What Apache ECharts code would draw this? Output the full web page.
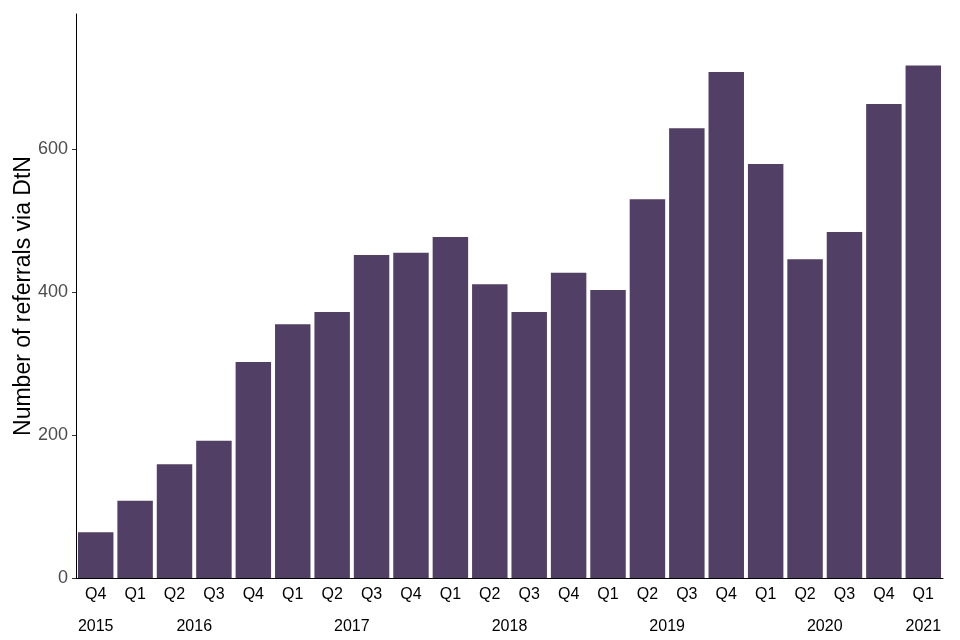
<!DOCTYPE html>
<html>
<head>
<meta charset="utf-8">
<script src="https://cdn.jsdelivr.net/npm/echarts@6/dist/echarts.min.js"></script>
<style>html,body{margin:0;padding:0;background:#fff}#c{width:960px;height:640px}</style>
</head>
<body>
<div id="c"></div>
<script>
var quarters = ['Q4','Q1','Q2','Q3','Q4','Q1','Q2','Q3','Q4','Q1','Q2','Q3','Q4','Q1','Q2','Q3','Q4','Q1','Q2','Q3','Q4','Q1'];
var yearOf = ['2015','2016','2016','2016','2016','2017','2017','2017','2017','2018','2018','2018','2018','2019','2019','2019','2019','2020','2020','2020','2020','2021'];
var referrals = [64,108,159,192,302,355,372,452,455,477,411,372,427,403,530,629,708,579,446,484,663,717];
var yTicks = [0,200,400,600];

// year label centres derived from the category data
var years = [];
var yearCentre = {};
yearOf.forEach(function(y,i){
  if(!(y in yearCentre)){ years.push(y); yearCentre[y] = []; }
  yearCentre[y].push(i);
});
var yearPos = years.map(function(y){
  var a = yearCentre[y]; return (a[0] + a[a.length-1]) / 2;
});
var posToYear = {};
yearPos.forEach(function(p,i){ posToYear[p] = years[i]; });

var font = 'Liberation Sans, Arial, sans-serif';
var chart = echarts.init(document.getElementById('c'));
chart.setOption({
  animation: false,
  backgroundColor: '#ffffff',
  grid: {left: 76, right: 17, top: 14, bottom: 62},
  xAxis: [{
    type: 'category',
    data: quarters.map(function(q,i){ return q + ' ' + yearOf[i]; }),
    axisLine: {onZero: false, lineStyle: {color: '#000', width: 1}},
    axisTick: {alignWithLabel: true, length: 4, lineStyle: {color: '#333'}},
    axisLabel: {color: '#000', fontSize: 16, fontFamily: font, margin: 9,
      formatter: function(v){ return v.split(' ')[0]; }}
  },{
    type: 'value',
    position: 'bottom',
    min: -0.5, max: quarters.length - 0.5,
    axisLine: {show: false, onZero: false},
    axisTick: {show: false},
    splitLine: {show: false},
    axisLabel: {color: '#000', fontSize: 16, fontFamily: font, margin: 41,
      customValues: yearPos,
      formatter: function(v){ return posToYear[v] || ''; }}
  }],
  yAxis: {
    type: 'value',
    min: 0, max: 789,
    name: 'Number of referrals via DtN',
    nameLocation: 'middle',
    nameGap: 41,
    nameMoveOverlap: false,
    nameTextStyle: {color: '#000', fontSize: 23, fontFamily: font},
    axisLine: {show: true, onZero: false, lineStyle: {color: '#000', width: 1}},
    axisTick: {show: true, length: 4, customValues: yTicks, lineStyle: {color: '#333'}},
    axisLabel: {color: '#4d4d4d', fontSize: 18, fontFamily: font, margin: 8, customValues: yTicks},
    splitLine: {show: false}
  },
  series: [{
    type: 'bar',
    xAxisIndex: 0,
    data: referrals,
    barCategoryGap: '10%',
    itemStyle: {color: '#523F66'}
  }]
});
</script>
</body>
</html>
